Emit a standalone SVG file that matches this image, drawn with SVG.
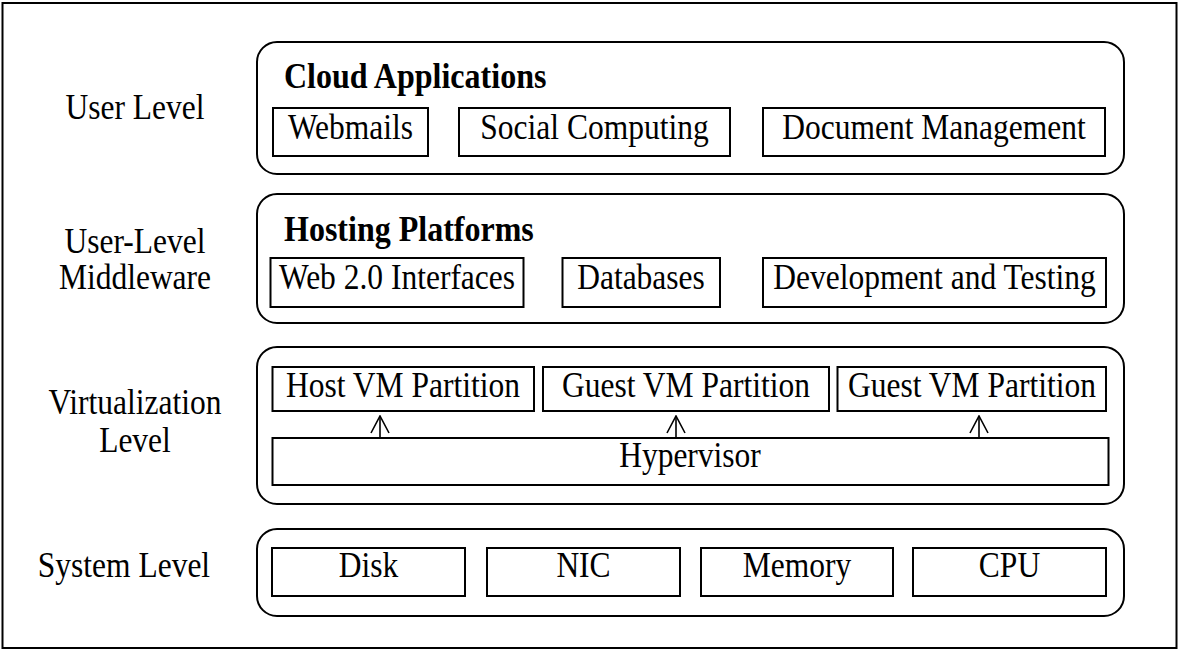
<svg xmlns="http://www.w3.org/2000/svg" width="1188" height="651" viewBox="0 0 1188 651">
<style>
text{font-family:"Liberation Serif","Times New Roman",serif;font-size:35px;fill:#000;transform-box:fill-box;transform-origin:center;transform:scaleX(0.9)}
.b{font-weight:bold;transform-origin:left center;transform:scaleX(0.915)}
.m{text-anchor:middle}
.layer{fill:none;stroke:#000;stroke-width:2}
.box{fill:#fff;stroke:#000;stroke-width:2}
.conn{stroke:#000;stroke-width:1.6;fill:none}
</style>
<defs>
<marker id="ah" viewBox="0 0 20 20" refX="19" refY="10" markerWidth="20" markerHeight="20" markerUnits="userSpaceOnUse" orient="auto">
<path d="M2,1 L19,10 L2,19" fill="none" stroke="#000" stroke-width="1.6"/>
</marker>
</defs>
<rect x="2.5" y="3" width="1174" height="645" fill="#fff" stroke="#000" stroke-width="2"/>

<g id="labels">
<text class="m" x="135" y="119">User Level</text>
<text class="m" x="135" y="253">User-Level</text>
<text class="m" x="135" y="289">Middleware</text>
<text class="m" x="135" y="414">Virtualization</text>
<text class="m" x="135" y="452">Level</text>
<text class="m" x="124" y="577">System Level</text>
</g>

<g id="user-level">
<rect class="layer" x="257" y="42" width="867" height="132" rx="20"/>
<text class="b" x="284" y="88">Cloud Applications</text>
</g>
<g id="webmails"><rect class="box" x="273" y="108" width="155" height="48"/><text class="m" x="350.5" y="139">Webmails</text></g>
<g id="social"><rect class="box" x="459" y="108" width="271" height="48"/><text class="m" x="594.5" y="139">Social Computing</text></g>
<g id="docmgmt"><rect class="box" x="763" y="108" width="342" height="48"/><text class="m" x="934" y="139">Document Management</text></g>

<g id="middleware">
<rect class="layer" x="257" y="194" width="867" height="129" rx="20"/>
<text class="b" x="284" y="241">Hosting Platforms</text>
</g>
<g id="web20"><rect class="box" x="270.5" y="258" width="253" height="49"/><text class="m" x="397" y="289">Web 2.0 Interfaces</text></g>
<g id="databases"><rect class="box" x="562.5" y="258" width="157.5" height="49"/><text class="m" x="641" y="289">Databases</text></g>
<g id="devtest"><rect class="box" x="763" y="258" width="343" height="49"/><text class="m" x="934.5" y="289">Development and Testing</text></g>

<g id="virtualization">
<rect class="layer" x="257" y="347" width="867" height="157" rx="20"/>
</g>
<g id="hostvm"><rect class="box" x="272.5" y="367" width="261.5" height="44"/><text class="m" x="403" y="397">Host VM Partition</text></g>
<g id="guestvm1"><rect class="box" x="543" y="367" width="286" height="44"/><text class="m" x="686" y="397">Guest VM Partition</text></g>
<g id="guestvm2"><rect class="box" x="837.5" y="367" width="268.5" height="44"/><text class="m" x="972" y="397">Guest VM Partition</text></g>
<g id="hypervisor"><rect class="box" x="272.5" y="438" width="836" height="47"/><text class="m" x="690" y="467">Hypervisor</text></g>

<g id="connectors">
<line class="conn" x1="380" y1="438" x2="380" y2="416" marker-end="url(#ah)"/>
<line class="conn" x1="676" y1="438" x2="676" y2="416" marker-end="url(#ah)"/>
<line class="conn" x1="979" y1="438" x2="979" y2="416" marker-end="url(#ah)"/>
</g>

<g id="system-level">
<rect class="layer" x="257" y="529" width="867" height="87" rx="20"/>
</g>
<g id="disk"><rect class="box" x="272" y="548" width="193" height="48"/><text class="m" x="368.5" y="577">Disk</text></g>
<g id="nic"><rect class="box" x="487" y="548" width="193" height="48"/><text class="m" x="583.5" y="577">NIC</text></g>
<g id="memory"><rect class="box" x="701" y="548" width="192" height="48"/><text class="m" x="797" y="577">Memory</text></g>
<g id="cpu"><rect class="box" x="913" y="548" width="193" height="48"/><text class="m" x="1009.5" y="577">CPU</text></g>
</svg>
